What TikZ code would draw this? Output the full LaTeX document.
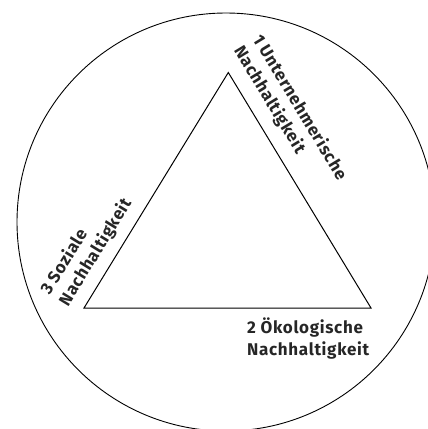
\documentclass[tikz,border=0pt]{standalone}
\usepackage{fontspec}
\setmainfont{Fira Sans}
\newfontfamily\lblfont[LetterSpace=4]{Fira Sans}
\begin{document}
\begin{tikzpicture}[x=1pt,y=-1pt,
  lbl/.style={font=\lblfont\bfseries\fontsize{17}{21.7}\selectfont, align=left, inner sep=0pt, anchor=base west, text=black!85},
  edgeline/.style={line width=1pt, line join=miter}]
\useasboundingbox (0,0) rectangle (428,429);
\clip (0,0) rectangle (428,429);
\draw[line width=0.9pt] (226,222) circle [radius=209];
\coordinate (A) at (228.3,72.5);
\coordinate (B) at (84,308);
\coordinate (C) at (371,308);
\draw[edgeline] (A) -- (B) -- (C) -- cycle;
\node[lbl, rotate=-58.8] (n1) at (233.4,50.2) {1 Unternehmerische\\Nachhaltigkeit};
\node[lbl, rotate=58.5] (n3) at (68,307.3) {3 Soziale\\Nachhaltigkeit};
\node[lbl] (n2) at (247,355.3) {2 Ökologische\\Nachhaltigkeit};
\end{tikzpicture}
\end{document}
